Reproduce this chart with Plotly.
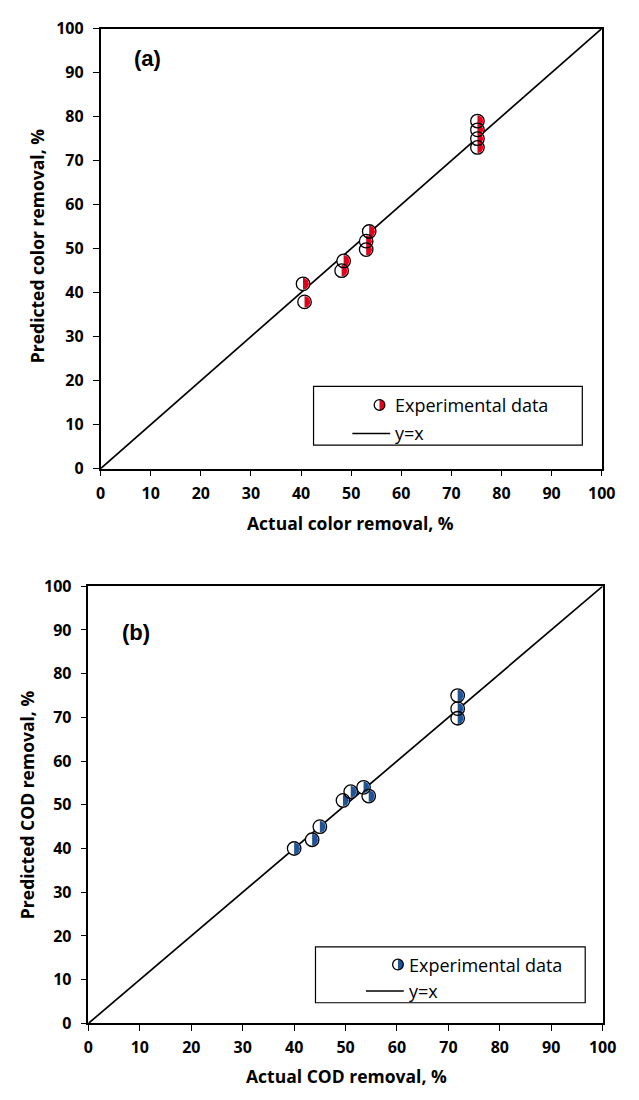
import math
import plotly.graph_objects as go

# ---------------- data ----------------
color_actual = [40.4, 40.7, 48.5, 48.1, 53.6, 53.0, 53.0, 75.2, 75.2, 75.2, 75.2]
color_pred = [42.0, 37.9, 47.2, 45.0, 53.9, 51.7, 49.8, 79.0, 77.0, 75.0, 73.0]
cod_actual = [40.0, 43.5, 45.0, 49.5, 51.0, 53.5, 54.5, 71.8, 71.8, 71.8]
cod_pred = [40.0, 42.0, 45.0, 51.0, 53.0, 54.0, 52.0, 75.0, 72.0, 69.8]
line_xy = [0, 100]
tick_vals = [0, 10, 20, 30, 40, 50, 60, 70, 80, 90, 100]

W, H = 639, 1100
RED = "#E3001B"
BLUE = "#1F5597"
FONT = "Open Sans"

# panel geometry in pixels (left, right, top, bottom)
PA = dict(l=98.5, r=615, t=18, b=467)
PB = dict(l=86, r=616, t=587, b=1033)


def dom(p):
    return [p["l"] / W, p["r"] / W], [1 - p["b"] / H, 1 - p["t"] / H]


def half_disk(xs, ys, p, rpx=6.0, n=16):
    sx = (p["r"] - p["l"]) / 100.0
    sy = (p["b"] - p["t"]) / 100.0
    hx, hy = [], []
    for x, y in zip(xs, ys):
        for i in range(n + 1):
            a = -math.pi / 2 + math.pi * i / n
            hx.append(x + rpx * math.cos(a) / sx)
            hy.append(y + rpx * math.sin(a) / sy)
        hx.append(None)
        hy.append(None)
    return hx, hy


fig = go.Figure()


def add_panel(xs, ys, col, p, xa, ya):
    fig.add_trace(go.Scatter(x=line_xy, y=line_xy, mode="lines",
                             line=dict(color="black", width=1.7),
                             xaxis=xa, yaxis=ya, showlegend=False, hoverinfo="skip"))
    fig.add_trace(go.Scatter(x=xs, y=ys, mode="markers",
                             marker=dict(symbol="circle", size=13.5, color="white",
                                         line=dict(width=0)),
                             xaxis=xa, yaxis=ya, showlegend=False))
    hx, hy = half_disk(xs, ys, p)
    fig.add_trace(go.Scatter(x=hx, y=hy, mode="lines", fill="toself",
                             fillcolor=col, line=dict(width=0, color=col),
                             xaxis=xa, yaxis=ya, showlegend=False, hoverinfo="skip"))
    fig.add_trace(go.Scatter(x=xs, y=ys, mode="markers",
                             marker=dict(symbol="circle", size=13.5, color="rgba(0,0,0,0)",
                                         line=dict(width=1.3, color="black")),
                             xaxis=xa, yaxis=ya, showlegend=False))


add_panel(color_actual, color_pred, RED, PA, "x", "y")
add_panel(cod_actual, cod_pred, BLUE, PB, "x2", "y2")


def axis(domain, anchor, standoff):
    return dict(domain=domain, range=[0, 100], tickvals=tick_vals,
                ticks="outside", ticklen=6, tickwidth=1.2, tickcolor="black",
                showline=True, linecolor="black", linewidth=1.5, mirror=True,
                showgrid=False, zeroline=False, anchor=anchor, ticklabelstandoff=standoff,
                tickfont=dict(family=FONT, size=16, color="black", weight="bold"))


xda, yda = dom(PA)
xdb, ydb = dom(PB)

shapes = []
annotations = []


def px_x(v):
    return v / W


def px_y(v):
    return 1 - v / H


def legend(box, mk, txt_x, line_y, line_x, col):
    l, r, t, b = box
    shapes.append(dict(type="rect", xref="paper", yref="paper",
                       x0=px_x(l), x1=px_x(r), y0=px_y(b), y1=px_y(t),
                       line=dict(color="black", width=1.2), fillcolor="white", layer="above"))
    cx, cy = mk
    rr = 5.5
    k = 0.5523
    pts = [(cx, cy - rr), (cx + k * rr, cy - rr), (cx + rr, cy - k * rr), (cx + rr, cy),
           (cx + rr, cy + k * rr), (cx + k * rr, cy + rr), (cx, cy + rr)]
    pp = [(px_x(a), px_y(c)) for a, c in pts]
    path = "M {0},{1} C {2},{3} {4},{5} {6},{7} C {8},{9} {10},{11} {12},{13} Z".format(
        *[v for q in pp for v in q])
    shapes.append(dict(type="path", xref="paper", yref="paper", path=path,
                       fillcolor=col, line=dict(width=0), layer="above"))
    shapes.append(dict(type="circle", xref="paper", yref="paper",
                       x0=px_x(cx - rr), x1=px_x(cx + rr), y0=px_y(cy + rr), y1=px_y(cy - rr),
                       line=dict(color="black", width=1.3), layer="above"))
    annotations.append(dict(xref="paper", yref="paper", x=px_x(txt_x), y=px_y(cy),
                            xanchor="left", yanchor="middle", showarrow=False,
                            text="Experimental data",
                            font=dict(family=FONT, size=18, color="black")))
    shapes.append(dict(type="line", xref="paper", yref="paper",
                       x0=px_x(line_x[0]), x1=px_x(line_x[1]), y0=px_y(line_y), y1=px_y(line_y),
                       line=dict(color="black", width=1.5), layer="above"))
    annotations.append(dict(xref="paper", yref="paper", x=px_x(txt_x), y=px_y(line_y),
                            xanchor="left", yanchor="middle", showarrow=False,
                            text="y=x", font=dict(family=FONT, size=18, color="black")))


legend((318, 595, 383, 443), (386, 402), 400, 431, (358, 397), RED)
legend((320, 598, 955, 1012), (405, 973), 414, 1000, (372, 411), BLUE)


def title(txt, x, y, rot=0):
    annotations.append(dict(xref="paper", yref="paper", x=px_x(x), y=px_y(y),
                            xanchor="center", yanchor="middle", showarrow=False, textangle=rot,
                            text=txt, font=dict(family=FONT, size=17.5, color="black", weight="bold")))


title("Actual color removal, %", 356, 522)
title("Predicted color removal, %", 33, 240, -90)
title("Actual COD removal, %", 352, 1087)
title("Predicted COD removal, %", 22, 810, -90)

annotations.append(dict(xref="paper", yref="paper", x=px_x(131), y=px_y(48), xanchor="left",
                        yanchor="middle", showarrow=False, text="(a)",
                        font=dict(family="Liberation Sans", size=22, color="black", weight="bold")))
annotations.append(dict(xref="paper", yref="paper", x=px_x(119), y=px_y(634), xanchor="left",
                        yanchor="middle", showarrow=False, text="(b)",
                        font=dict(family="Liberation Sans", size=22, color="black", weight="bold")))

fig.update_layout(
    width=W, height=H, margin=dict(l=0, r=0, t=0, b=0),
    paper_bgcolor="white", plot_bgcolor="white", showlegend=False,
    xaxis=axis(xda, "y", 3),
    yaxis=axis(yda, "x", 6),
    xaxis2=axis(xdb, "y2", 3),
    yaxis2=axis(ydb, "x2", 6),
    shapes=shapes, annotations=annotations,
)

fig.write_html("out.html")
